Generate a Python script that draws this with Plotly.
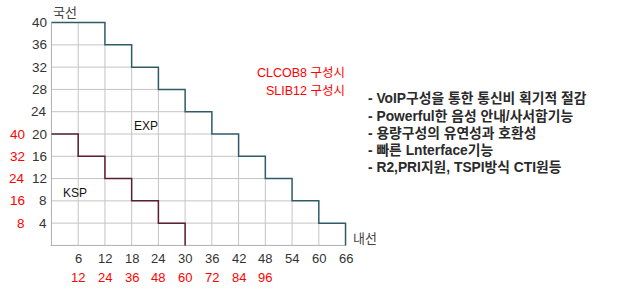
import plotly.graph_objects as go

# ---- data ----
x_ticks = [6, 12, 18, 24, 30, 36, 42, 48, 54, 60, 66]
y_ticks = [4, 8, 12, 16, 20, 24, 28, 32, 36, 40]
exp_x = [0, 12, 18, 24, 30, 36, 42, 48, 54, 60, 66]
exp_y = [40, 36, 32, 28, 24, 20, 16, 12, 8, 4, 0]
ksp_x = [0, 6, 12, 18, 24, 30]
ksp_y = [20, 16, 12, 8, 4, 0]
red_x_labels = [12, 24, 36, 48, 60, 72, 84, 96]
red_y_labels = [40, 32, 24, 16, 8]
red_y_pos = [20, 16, 12, 8, 4]
notes = ["CLCOB8 구성시", "SLIB12 구성시"]
bullets = ["- VoIP구성을 통한 통신비 획기적 절감",
           "- Powerful한 음성 안내/사서함기능",
           "- 용량구성의 유연성과 호환성",
           "- 빠른 Lnterface기능",
           "- R2,PRI지원, TSPI방식 CTI원등"]

W, H = 620, 300
ML, MR, MT, MB = 47, 270, 17, 49
XR = [-1, 67]
YR = [-1, 41]

def exp_at(x):
    v = exp_y[0]
    for xi, yi in zip(exp_x, exp_y):
        if xi <= x:
            v = yi
    return v

def px2paper(px, py):
    return (px - ML) / (W - ML - MR), (H - MB - py) / (H - MT - MB)

FONT = "Liberation Sans, Arial, Noto Sans CJK KR"
KFONT = "Noto Sans CJK KR, Liberation Sans"
GRID = "#c4c4c4"

fig = go.Figure()

gx, gy = [], []
for u in x_ticks[:-1]:
    gx += [u, u, None]
    gy += [0, exp_at(u), None]
for v in y_ticks[:-1]:
    xe = max(xi for xi, yi in zip(exp_x, exp_y) if yi >= v)
    gx += [0, xe, None]
    gy += [v, v, None]
fig.add_trace(go.Scatter(x=gx, y=gy, mode="lines", line=dict(color=GRID, width=1),
                         hoverinfo="skip", showlegend=False))
fig.add_trace(go.Scatter(x=[0, 0, None, -0.2, exp_x[-1]], y=[y_ticks[-1], 0, None, 0, 0],
                         mode="lines", line=dict(color="#b0b0b0", width=1),
                         hoverinfo="skip", showlegend=False))
fig.add_trace(go.Scatter(x=exp_x, y=exp_y, mode="lines", line_shape="hv",
                         line=dict(color="#2f5b66", width=1.5), name="EXP", showlegend=False))
fig.add_trace(go.Scatter(x=ksp_x, y=ksp_y, mode="lines", line_shape="hv",
                         line=dict(color="#5a1f36", width=1.5), name="KSP", showlegend=False))

ann = []
for v in y_ticks:
    ann.append(dict(x=0, y=v, xref="x", yref="y", text=str(v), showarrow=False,
                    xanchor="right", yanchor="middle", xshift=-2,
                    font=dict(family=FONT, size=13.5, color="#333333")))
for u in x_ticks:
    ann.append(dict(x=u, y=0, xref="x", yref="y", text=str(u), showarrow=False,
                    xanchor="center", yanchor="middle", yshift=-13,
                    font=dict(family=FONT, size=13, color="#333333")))
for lab, v in zip(red_y_labels, red_y_pos):
    ann.append(dict(x=0, y=v, xref="x", yref="y", text=str(lab), showarrow=False,
                    xanchor="right", yanchor="middle", xshift=-24,
                    font=dict(family=FONT, size=13.5, color="#ff0000")))
for lab, u in zip(red_x_labels, x_ticks):
    ann.append(dict(x=u, y=0, xref="x", yref="y", text=str(lab), showarrow=False,
                    xanchor="center", yanchor="middle", yshift=-32,
                    font=dict(family=FONT, size=13, color="#ff0000")))

ann.append(dict(x=21.2, y=21.4, xref="x", yref="y", text="EXP", showarrow=False,
                xanchor="center", yanchor="middle",
                font=dict(family=FONT, size=12, color="#111111")))
ann.append(dict(x=5.2, y=9.4, xref="x", yref="y", text="KSP", showarrow=False,
                xanchor="center", yanchor="middle",
                font=dict(family=FONT, size=12, color="#111111")))

px, py = px2paper(51, 11)
ann.append(dict(x=px, y=py, xref="paper", yref="paper", text="국선", showarrow=False,
                xanchor="left", yanchor="middle", font=dict(family=KFONT, size=13, color="#444444")))
px, py = px2paper(351, 237)
ann.append(dict(x=px, y=py, xref="paper", yref="paper", text="내선", showarrow=False,
                xanchor="left", yanchor="middle", font=dict(family=KFONT, size=13, color="#444444")))

for i, t in enumerate(notes):
    px, py = px2paper(347, 73 + 18 * i)
    ann.append(dict(x=px, y=py, xref="paper", yref="paper", text=t, showarrow=False,
                    xanchor="right", yanchor="middle",
                    font=dict(family=FONT, size=12.5, color="#ff0000")))
for i, t in enumerate(bullets):
    px, py = px2paper(366, 98.5 + 17.3 * i)
    ann.append(dict(x=px, y=py, xref="paper", yref="paper", text=t, showarrow=False,
                    xanchor="left", yanchor="middle",
                    font=dict(family=FONT, size=13.8, color="#2a2a2a", weight="bold")))

fig.update_layout(
    width=W, height=H, margin=dict(l=ML, r=MR, t=MT, b=MB),
    paper_bgcolor="white", plot_bgcolor="white",
    xaxis=dict(range=XR, visible=False, fixedrange=True),
    yaxis=dict(range=YR, visible=False, fixedrange=True),
    annotations=ann, showlegend=False,
)
fig.write_html("out.html")
